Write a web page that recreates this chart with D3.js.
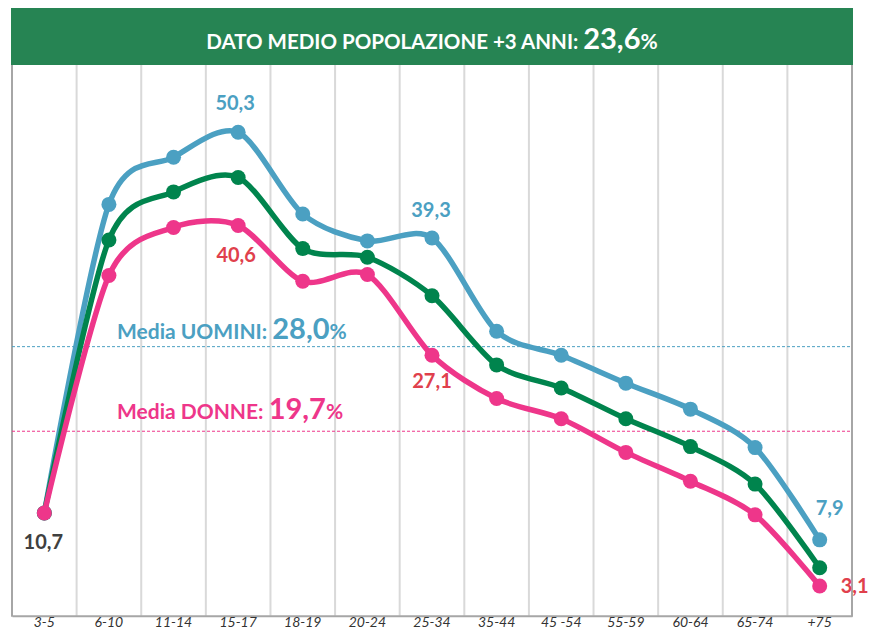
<!DOCTYPE html>
<html>
<head>
<meta charset="utf-8">
<script src="https://cdn.jsdelivr.net/npm/d3@7"></script>
<style>
  html, body { margin: 0; padding: 0; background: #fff; }
  svg { display: block; }
  text { font-family: Lato, "Open Sans", sans-serif; }
</style>
</head>
<body>
<svg id="chart" width="871" height="631"></svg>
<script>
// ---- data ----
const categories = ["3-5","6-10","11-14","15-17","18-19","20-24","25-34","35-44","45 -54","55-59","60-64","65-74","+75"];
const men    = [10.7, 42.8, 47.7, 50.3, 41.8, 39.0, 39.3, 29.6, 27.1, 24.2, 21.5, 17.5, 7.9];
const total  = [10.7, 39.1, 44.1, 45.6, 38.2, 37.3, 33.3, 26.1, 23.7, 20.5, 17.6, 13.7, 5.0];
const women  = [10.7, 35.4, 40.4, 40.6, 34.8, 35.5, 27.1, 22.6, 20.5, 17.0, 14.0, 10.5, 3.1];
const titleText = "DATO MEDIO POPOLAZIONE +3 ANNI: ";
const titleValue = "23,6";
const meanLabels = ["Media UOMINI: ", "Media DONNE: "];
const meanValues = ["28,0", "19,7"];
const meanLineLevels = [28.0, 19.2];
// labelled points: [series, index, text]
const pointLabels = [
  ["men", 3, "50,3"], ["men", 6, "39,3"], ["men", 12, "7,9"],
  ["women", 3, "40,6"], ["women", 6, "27,1"], ["women", 12, "3,1"],
  ["women", 0, "10,7"]
];

// ---- layout ----
const svg = d3.select("#chart");
const plot = {left: 12, right: 852, top: 65, bottom: 615.8};
const x = d3.scaleBand().domain(categories).range([plot.left, plot.right]);
const cx = c => x(c) + x.bandwidth() / 2;
const y = d3.scaleLinear().domain([0, 57.3]).range([plot.bottom, plot.top]);

const colors = {men: "#4BA0C2", total: "#00844D", women: "#EE368A"};
const labelColors = {men: "#4BA0C2", women: "#E0404C", base: "#404040"};
const seriesData = {men, total, women};

// vertical gridlines
svg.append("g").selectAll("line")
  .data(categories.slice(1))
  .join("line")
  .attr("x1", d => x(d)).attr("x2", d => x(d))
  .attr("y1", plot.top).attr("y2", plot.bottom)
  .attr("stroke", "#d9d9d9").attr("stroke-width", 2);

// frame
svg.append("line").attr("x1", plot.left).attr("x2", plot.left)
  .attr("y1", plot.top).attr("y2", plot.bottom + 1)
  .attr("stroke", "#a6a6a6").attr("stroke-width", 2);
svg.append("line").attr("x1", plot.right).attr("x2", plot.right)
  .attr("y1", plot.top).attr("y2", plot.bottom + 1)
  .attr("stroke", "#a6a6a6").attr("stroke-width", 2);

// x axis
const xAxis = svg.append("g")
  .attr("transform", `translate(0,${plot.bottom})`)
  .call(d3.axisBottom(x).tickSize(0).tickPadding(2));
xAxis.select(".domain").attr("stroke", "#a6a6a6").attr("stroke-width", 2);
xAxis.selectAll("text")
  .attr("font-family", "Lato, 'Open Sans', sans-serif")
  .attr("font-size", 14).attr("font-style", "italic")
  .attr("fill", "#333")
  .attr("dy", "0.68em");

// mean lines
const meanColors = [colors.men, colors.women];
svg.append("g").selectAll("line")
  .data(meanLineLevels)
  .join("line")
  .attr("x1", plot.left).attr("x2", plot.right)
  .attr("y1", d => y(d)).attr("y2", d => y(d))
  .attr("stroke", (d, i) => meanColors[i])
  .attr("stroke-width", 1)
  .attr("stroke-dasharray", "3,2");

// series lines
const line = d3.line()
  .x((d, i) => cx(categories[i]))
  .y(d => y(d))
  .curve(d3.curveCardinal.tension(0.15));

["men", "total", "women"].forEach(k => {
  const g = svg.append("g");
  g.append("path")
    .datum(seriesData[k])
    .attr("fill", "none")
    .attr("stroke", colors[k])
    .attr("stroke-width", 5.5)
    .attr("stroke-linejoin", "round")
    .attr("d", line);
  g.selectAll("circle")
    .data(seriesData[k])
    .join("circle")
    .attr("cx", (d, i) => cx(categories[i]))
    .attr("cy", d => y(d))
    .attr("r", 7.5)
    .attr("fill", colors[k]);
});

// point labels
const labelOffsets = {
  "men-3": [-3, -22], "men-6": [-1, -21], "men-12": [10, -25],
  "women-3": [-2, 36.5], "women-6": [0, 33], "women-12": [35, 7],
  "women-0": [-1, 36]
};
svg.append("g").selectAll("text")
  .data(pointLabels)
  .join("text")
  .attr("x", d => cx(categories[d[1]]) + labelOffsets[d[0] + "-" + d[1]][0])
  .attr("y", d => y(seriesData[d[0]][d[1]]) + labelOffsets[d[0] + "-" + d[1]][1])
  .attr("text-anchor", "middle")
  .attr("font-size", 20).attr("font-weight", 700)
  .attr("fill", d => d[1] === 0 ? labelColors.base : labelColors[d[0]])
  .text(d => d[2]);

// mean labels
const meanLabelOffsets = [-8, -12.5];
const meanText = svg.append("g").selectAll("text")
  .data(meanLabels)
  .join("text")
  .attr("x", 117)
  .attr("y", (d, i) => y(meanLineLevels[i]) + meanLabelOffsets[i])
  .attr("fill", (d, i) => meanColors[i])
  .attr("font-weight", 700);
meanText.append("tspan").attr("font-size", 21).text(d => d);
meanText.append("tspan").attr("font-size", 29).text((d, i) => meanValues[i]);
meanText.append("tspan").attr("font-size", 21).text("%");

// title bar
svg.append("rect")
  .attr("x", plot.left - 1).attr("y", 8)
  .attr("width", plot.right - plot.left + 2).attr("height", 57)
  .attr("fill", "#268453");
const title = svg.append("text")
  .attr("x", (plot.left + plot.right) / 2).attr("y", 49)
  .attr("text-anchor", "middle")
  .attr("fill", "#fff").attr("font-weight", 700);
title.append("tspan").attr("font-size", 20.5).text(titleText);
title.append("tspan").attr("font-size", 29).text(titleValue);
title.append("tspan").attr("font-size", 21).text("%");
</script>
</body>
</html>
